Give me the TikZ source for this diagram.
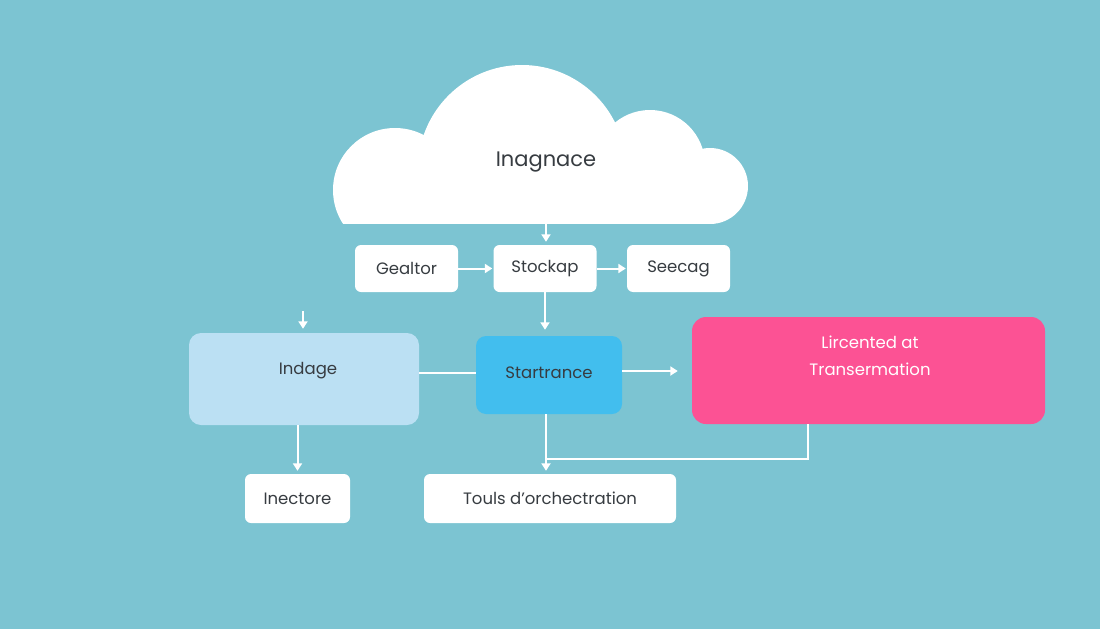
\documentclass[tikz,border=0pt]{standalone}
\usepackage{fontspec}
\setmainfont{Poppins}
\usetikzlibrary{arrows.meta,calc}
\definecolor{bg}{RGB}{124,196,210}
\definecolor{txt}{RGB}{55,60,65}
\definecolor{lblue}{RGB}{187,224,243}
\definecolor{mblue}{RGB}{66,190,238}
\definecolor{pink}{RGB}{252,82,148}
\tikzset{
  lbl/.style={text=txt,font=\fontsize{16.5}{20}\selectfont,inner sep=0pt},
  wbox/.style={lbl,draw=none,fill=white,rounded corners=6pt},
  conn/.style={draw=white,line width=2pt},
  arr/.style={conn,-{Triangle[width=9pt,length=7.5pt]}},
}
\begin{document}
\begin{tikzpicture}[x=1pt,y=-1pt]
\useasboundingbox (0,0) rectangle (1100,629);
\fill[bg] (0,0) rectangle (1100,629);
% cloud
\begin{scope}
\clip (0,0) rectangle (1100,223);
\fill[white] (395,190) circle[radius=62pt];
\fill[white] (522,169) circle[radius=104pt];
\fill[white] (650,165) circle[radius=55pt];
\fill[white] (710,186) circle[radius=38pt];
\fill[white] (395,170) rectangle (712,240);
\end{scope}
\node[text=txt,font=\fontsize{21}{24}\selectfont] (cloud) at (546,162.5) {Inagnace};
\coordinate (cloudbot) at (546,223);
% top row
\node[wbox,minimum width=103pt,minimum height=47pt] (gealtor) at (406.5,268.5) {Gealtor};
\node[wbox,minimum width=103pt,minimum height=47pt] (stock) at (545,268.5) {Stockap};
\node[wbox,minimum width=103pt,minimum height=47pt] (seecag) at (678.5,268.5) {Seecag};
% middle row
\node[wbox,fill=lblue,rounded corners=12pt,minimum width=230pt,minimum height=92pt] (indage) at (304,379) {};
\node[lbl] (indaget) at (308,371) {Indage};
\node[wbox,fill=mblue,rounded corners=10pt,minimum width=146pt,minimum height=78pt] (start) at (549,375) {};
\node[lbl] (startt) at (549,373) {Startrance};
\node[wbox,fill=pink,rounded corners=14pt,minimum width=353pt,minimum height=107pt] (pink) at (868.5,370.5) {};
\node[lbl,text=white] (pinkt1) at (870,342) {Lircented at};
\node[lbl,text=white] (pinkt2) at (870,369) {Transermation};
% bottom row
\node[wbox,minimum width=105pt,minimum height=49pt] (inect) at (297.5,498.5) {Inectore};
\node[wbox,minimum width=252pt,minimum height=49pt] (touls) at (550,498.5) {Touls d’orchectration};
\coordinate (indin) at (303,311);
\coordinate (jn) at (546,459);
% connectors
\draw[arr,shorten >=3pt] (cloudbot) -- (cloudbot |- stock.north);
\draw[arr,shorten >=1pt] (gealtor.east) -- (stock.west);
\draw[arr,shorten >=1pt] (stock.east) -- (seecag.west);
\draw[arr,shorten >=6pt] (stock.south) -- (stock.south |- start.north);
\draw[arr,shorten >=4pt] (indin) -- (indin |- indage.north);
\draw[conn] (indage.east |- 0,373) -- (start.west |- 0,373);
\draw[arr,shorten >=14pt] (start.east |- 0,371) -- (pink.west |- 0,371);
\draw[arr,shorten >=3pt] (inect.north |- indage.south) -- (inect.north);
\draw[arr,shorten >=3pt] (jn |- start.south) -- (jn |- touls.north);
\draw[conn] ([xshift=-60.5pt]pink.south) |- (jn);
\end{tikzpicture}
\end{document}
